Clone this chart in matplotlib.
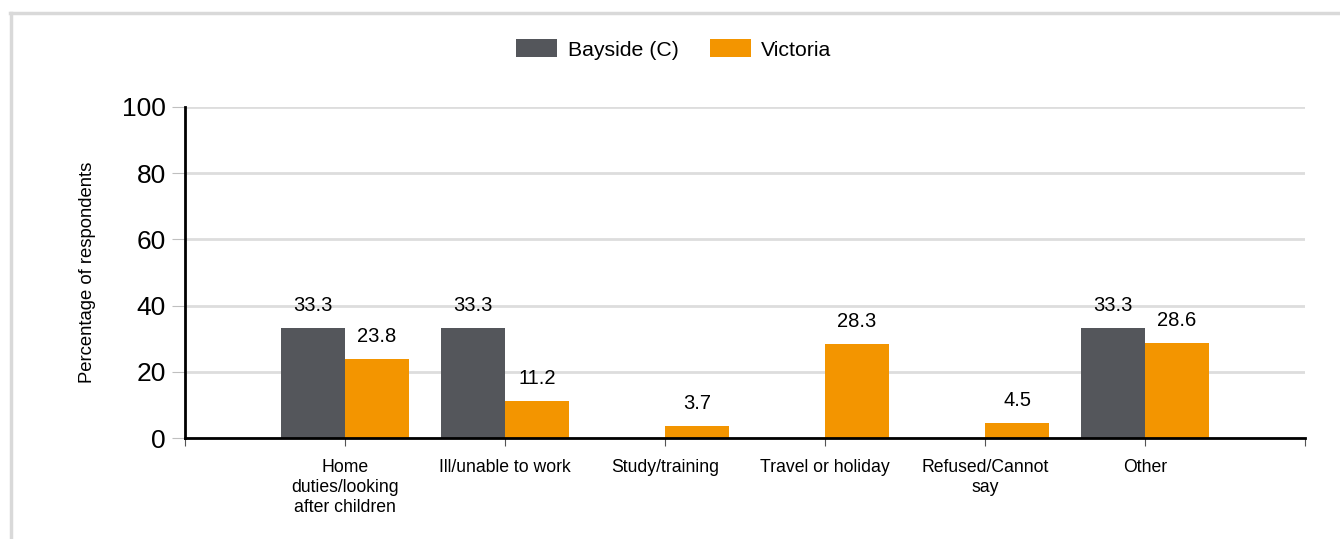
import matplotlib
matplotlib.use('Agg')
import matplotlib.pyplot as plt
from matplotlib.lines import Line2D
import numpy as np

plt.rcParams['font.family'] = ['Liberation Sans', 'DejaVu Sans']

# data
categories = ['Home\nduties/looking\nafter children', 'Ill/unable to work',
              'Study/training', 'Travel or holiday', 'Refused/Cannot\nsay', 'Other']
bayside = [33.3, 33.3, None, None, None, 33.3]
victoria = [23.8, 11.2, 3.7, 28.3, 4.5, 28.6]
series_names = ['Bayside (C)', 'Victoria']
yticks = [0, 20, 40, 60, 80, 100]

grey = '#54565B'
orange = '#F39500'
width = 0.4

fig = plt.figure(figsize=(13.4, 5.39), dpi=100)
ax = fig.add_axes([185 / 1340, 1 - 438 / 539, 1120 / 1340, 331 / 539])

x = np.arange(len(categories))
b_vals = [v if v is not None else 0 for v in bayside]
ax.bar(x - width / 2, b_vals, width, color=grey, label=series_names[0], zorder=3)
ax.bar(x + width / 2, victoria, width, color=orange, label=series_names[1], zorder=3)

# value labels
for xi, v in zip(x, bayside):
    if v is not None:
        ax.text(xi - width / 2, v + 4, '%.1f' % v, ha='center', va='bottom', fontsize=14.5)
for xi, v in zip(x, victoria):
    ax.text(xi + width / 2, v + 4, '%.1f' % v, ha='center', va='bottom', fontsize=14.5)

ax.set_xlim(-1, len(categories))
ax.set_ylim(0, 100)
ax.set_yticks(yticks)
ax.tick_params(axis='y', labelsize=19, length=9.5, color='#BFBFBF', pad=4.2)
ax.set_xticks(np.arange(-1, len(categories) + 1))
ax.set_xticklabels([''] + categories + [''], fontsize=12.7, linespacing=1.22)
ax.tick_params(axis='x', length=6, color='#555555', pad=9)
ax.grid(axis='y', color='#DDDDDD', linewidth=2, zorder=0)

for side in ['top', 'right']:
    ax.spines[side].set_visible(False)
ax.spines['left'].set_linewidth(2)
ax.spines['bottom'].set_linewidth(2)
ax.spines['left'].set_zorder(4)
ax.spines['bottom'].set_zorder(4)

ax.set_ylabel('Percentage of respondents', fontsize=13.3, labelpad=19)

ax.legend(loc='upper center', bbox_to_anchor=(0.4365, 1.262), ncol=2, frameon=False,
          fontsize=15.3, handlelength=1.93, handleheight=0.9, columnspacing=1.45,
          handletextpad=0.5)

# light grey frame around the chart
fig.add_artist(Line2D([10 / 1340, 1], [1 - 13 / 539, 1 - 13 / 539],
                      color='#D9D9D9', linewidth=2.5, transform=fig.transFigure))
fig.add_artist(Line2D([11 / 1340, 11 / 1340], [0, 1 - 13 / 539],
                      color='#D9D9D9', linewidth=2.5, transform=fig.transFigure))

fig.savefig('out.png', dpi=100)
